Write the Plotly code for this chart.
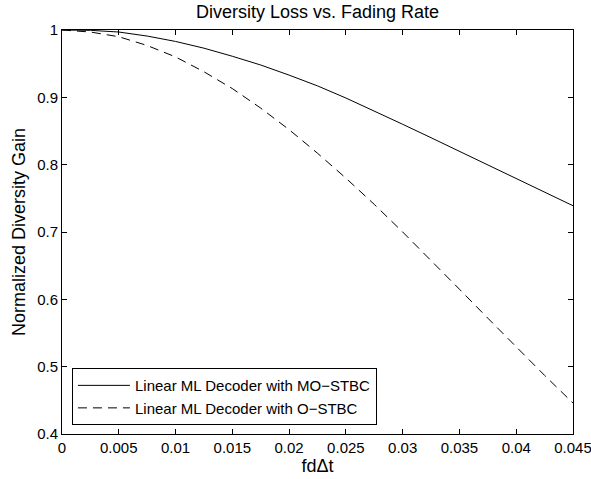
import plotly.graph_objects as go

x_vals = [0, 0.0025, 0.005, 0.0075, 0.01, 0.0125, 0.015, 0.0175, 0.02, 0.0225,
          0.025, 0.0275, 0.03, 0.0325, 0.035, 0.0375, 0.04, 0.0425, 0.045]
mo_stbc = [1.0, 0.9995, 0.997, 0.991, 0.983, 0.973, 0.961, 0.948, 0.933, 0.917,
           0.899, 0.880, 0.860, 0.840, 0.820, 0.800, 0.780, 0.759, 0.739]
o_stbc = [1.0, 0.997, 0.990, 0.977, 0.960, 0.938, 0.913, 0.884, 0.852, 0.817,
          0.780, 0.741, 0.700, 0.658, 0.615, 0.572, 0.529, 0.487, 0.446]
x_ticks = [0, 0.005, 0.01, 0.015, 0.02, 0.025, 0.03, 0.035, 0.04, 0.045]
x_tick_labels = ["0", "0.005", "0.01", "0.015", "0.02", "0.025", "0.03", "0.035", "0.04", "0.045"]
y_ticks = [0.4, 0.5, 0.6, 0.7, 0.8, 0.9, 1.0]
y_tick_labels = ["0.4", "0.5", "0.6", "0.7", "0.8", "0.9", "1"]

fig = go.Figure()
fig.add_trace(go.Scatter(x=x_vals, y=mo_stbc, mode="lines",
                         name="Linear ML Decoder with MO\u2212STBC",
                         line=dict(color="black", width=1)))
fig.add_trace(go.Scatter(x=x_vals, y=o_stbc, mode="lines",
                         name="Linear ML Decoder with O\u2212STBC",
                         line=dict(color="black", width=1, dash="9px,6px")))

font = "Liberation Sans, Arial, Helvetica, sans-serif"
axis_common = dict(showline=True, linecolor="black", linewidth=1, mirror="ticks",
                   ticks="inside", ticklen=5, tickcolor="black", showgrid=False,
                   zeroline=False, ticklabeloverflow="allow", automargin=False,
                   tickfont=dict(size=15, color="black", family=font))

fig.update_layout(
    width=591, height=479,
    margin=dict(l=62, r=18, t=30, b=45, autoexpand=False),
    paper_bgcolor="white", plot_bgcolor="white",
    font=dict(family=font, color="black"),
    title=dict(text="Diversity Loss vs. Fading Rate", x=0.5, xref="paper", xanchor="center",
               y=1 - 12 / 479, yanchor="middle", font=dict(size=18, color="black")),
    xaxis=dict(range=[0, 0.045], tickvals=x_ticks, ticktext=x_tick_labels,
               title=dict(text="fd\u0394t", font=dict(size=18), standoff=2), **axis_common),
    yaxis=dict(range=[0.4, 1.0], tickvals=y_ticks, ticktext=y_tick_labels,
               title=dict(text="Normalized Diversity Gain", font=dict(size=18), standoff=6), **axis_common),
    legend=dict(x=0.0195, y=0.022, xanchor="left", yanchor="bottom",
                bordercolor="black", borderwidth=1, bgcolor="white",
                font=dict(size=15, color="black"), tracegroupgap=0,
                itemwidth=52),
    showlegend=True,
)

fig.write_html("out.html")
